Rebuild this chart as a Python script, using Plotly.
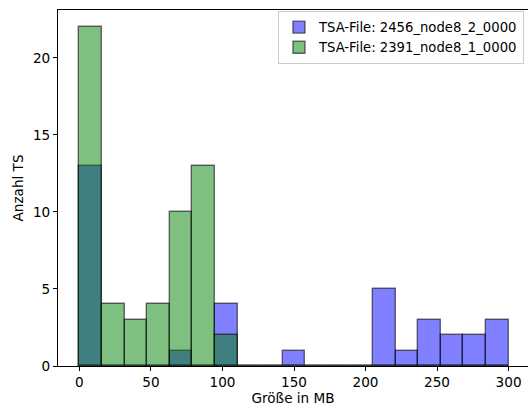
import numpy as np
import plotly.graph_objects as go

# Histogram bin edges (19 equal bins over 0..300 MB)
bin_edges = np.linspace(0, 300, 20)

# Counts per bin for each TSA file
counts_node8_2 = [13, 0, 0, 0, 1, 0, 4, 0, 0, 1, 0, 0, 0, 5, 1, 3, 2, 2, 3]
counts_node8_1 = [22, 4, 3, 4, 10, 13, 2, 0, 0, 0, 0, 0, 0, 0, 0, 0, 0, 0, 0]

label_node8_2 = "TSA-File: 2456_node8_2_0000"
label_node8_1 = "TSA-File: 2391_node8_1_0000"

x_ticks = [0, 50, 100, 150, 200, 250, 300]
y_ticks = [0, 5, 10, 15, 20]

centers = (bin_edges[:-1] + bin_edges[1:]) / 2
widths = np.diff(bin_edges)

FONT = "DejaVu Sans"
FS = 13.6

fig = go.Figure()
for counts, name, fill in [
    (counts_node8_2, label_node8_2, "rgba(0,0,255,0.5)"),
    (counts_node8_1, label_node8_1, "rgba(0,128,0,0.5)"),
]:
    fig.add_trace(go.Bar(
        x=centers, y=counts, width=widths, name=name,
        marker=dict(color=fill, line=dict(color="rgba(0,0,0,0.55)", width=1.4)),
    ))

fig.update_layout(
    width=528, height=408,
    margin=dict(l=58, r=0, t=10, b=42, autoexpand=False),
    barmode="overlay", bargap=0,
    plot_bgcolor="white", paper_bgcolor="white",
    font=dict(family=FONT, size=FS, color="black"),
    legend=dict(
        x=0.468, y=0.997, xanchor="left", yanchor="top",
        bgcolor="white", bordercolor="#cccccc", borderwidth=1,
        font=dict(size=13.2), tracegroupgap=0,
    ),
    xaxis=dict(
        range=[-15, 313.6], tickvals=x_ticks, ticks="outside", ticklen=4,
        tickcolor="black", showline=True, linecolor="black", linewidth=1,
        mirror=True, showgrid=False, zeroline=False,
        title=dict(text="Größe in MB", font=dict(size=FS), standoff=3),
    ),
    yaxis=dict(
        range=[0, 23.1], tickvals=y_ticks, ticks="outside", ticklen=4,
        tickcolor="black", showline=True, linecolor="black", linewidth=1,
        showgrid=False, zeroline=False,
        title=dict(text="Anzahl TS", font=dict(size=FS), standoff=6),
    ),
)

fig.write_html("out.html")
